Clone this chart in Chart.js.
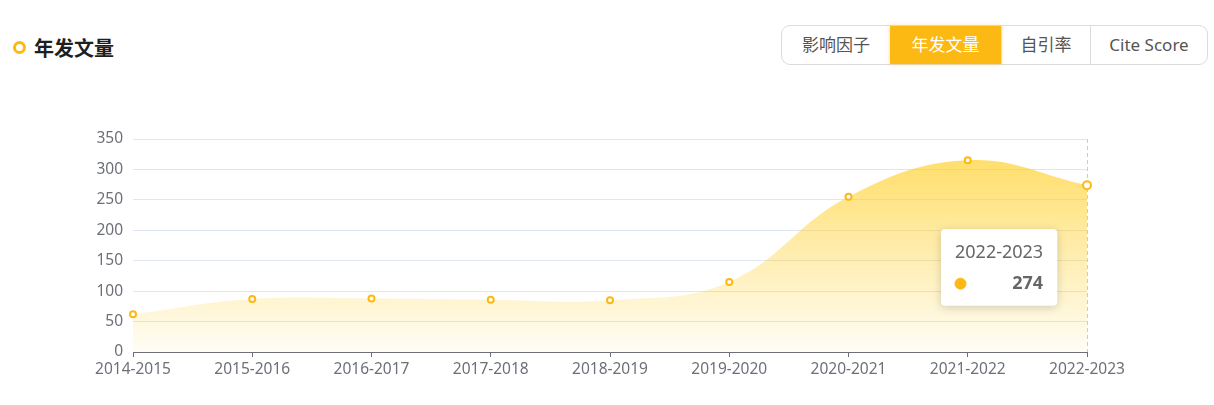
<!DOCTYPE html>
<html><head><meta charset="utf-8">
<script src="https://cdn.jsdelivr.net/npm/chart.js@4/dist/chart.umd.min.js"></script>
<style>
html,body{margin:0;padding:0;background:#fff;width:1214px;height:405px;overflow:hidden;font-family:"Noto Sans","Noto Sans CJK SC",sans-serif;}
.title{position:absolute;left:13px;top:33px;height:28px;display:flex;align-items:center;font-size:20px;font-weight:bold;color:#1f1f1f;font-family:"Noto Sans CJK SC",sans-serif;}
.title .dot{width:7px;height:7px;border:3px solid #FDB913;border-radius:50%;margin-right:8px;}
.btns{position:absolute;left:781px;top:25px;height:38px;display:flex;border:1px solid #dcdcdc;border-radius:9px;}
.btns div{height:38px;line-height:38px;text-align:center;font-size:17px;color:#555;border-left:1px solid #dcdcdc;box-sizing:border-box;}
.btns div:first-child{border-left:none;}
.btns .on{background:#FDB913;color:#fff;box-shadow:0 0 4px rgba(253,185,19,0.5);border-left:none;}
#wrap{position:absolute;left:0;top:100px;width:1214px;height:290px;}
</style></head><body>
<div class="title"><span class="dot"></span>年发文量</div>
<div class="btns"><div style="width:108px">影响因子</div><div class="on" style="width:111px">年发文量</div><div style="width:89px">自引率</div><div style="width:117px">Cite Score</div></div>
<div id="wrap"><canvas id="c"></canvas></div>
<script>
const categories = ["2014-2015","2015-2016","2016-2017","2017-2018","2018-2019","2019-2020","2020-2021","2021-2022","2022-2023"];
const articleCounts = [62, 87, 88, 86, 85, 115, 255, 315, 274];
const yTicks = [0, 50, 100, 150, 200, 250, 300, 350];
const activeIndex = categories.length - 1;

const FONT = '"Noto Sans","Noto Sans CJK SC",sans-serif';
const YELLOW = '#FDB913';

Chart.Tooltip.positioners.below = function(items) {
  if (!items.length) return false;
  const el = items[0].element;
  return { x: el.x - 142, y: el.y + 44 };
};

const crossLine = {
  id: 'crossLine',
  beforeDatasetsDraw(chart) {
    const act = chart.tooltip.getActiveElements();
    if (!act.length) return;
    const x = chart.getDatasetMeta(0).data[act[0].index].x;
    const {ctx, chartArea} = chart;
    ctx.save();
    ctx.strokeStyle = '#c8cbd2';
    ctx.lineWidth = 1;
    ctx.setLineDash([4, 3]);
    ctx.beginPath();
    ctx.moveTo(Math.round(x) + 0.5, chartArea.top);
    ctx.lineTo(Math.round(x) + 0.5, chartArea.bottom);
    ctx.stroke();
    ctx.restore();
  },
  beforeTooltipDraw(chart, args) {
    const t = args.tooltip;
    if (!t.opacity) return;
    const ctx = chart.ctx;
    ctx.save();
    ctx.shadowColor = 'rgba(0,0,0,0.18)';
    ctx.shadowBlur = 10;
    ctx.shadowOffsetY = 2;
    ctx.fillStyle = '#fff';
    ctx.beginPath();
    ctx.roundRect(t.x, t.y, t.width, t.height, 4);
    ctx.fill();
    ctx.restore();
  }
};

const chart = new Chart(document.getElementById('c'), {
  type: 'line',
  data: {
    labels: categories,
    datasets: [{
      data: articleCounts,
      fill: 'origin',
      tension: 0.4,
      borderWidth: 0,
      borderColor: 'rgba(0,0,0,0)',
      backgroundColor(ctx) {
        const ca = ctx.chart.chartArea;
        if (!ca) return 'rgba(255,200,20,0.4)';
        const g = ctx.chart.ctx.createLinearGradient(0, ca.top + 20, 0, ca.bottom);
        g.addColorStop(0, 'rgba(255,205,30,0.66)');
        g.addColorStop(1, 'rgba(255,205,30,0.04)');
        return g;
      },
      pointRadius: 3,
      pointBorderWidth: 2,
      pointBorderColor: YELLOW,
      pointBackgroundColor: '#fff',
      pointHoverRadius: 4,
      pointHoverBorderWidth: 2,
      pointHoverBorderColor: YELLOW,
      pointHoverBackgroundColor: '#fff'
    }]
  },
  options: {
    responsive: true,
    maintainAspectRatio: false,
    animation: false,
    events: [],
    layout: { padding: { top: 39, right: 127, bottom: 0, left: 0 } },
    plugins: {
      legend: { display: false },
      tooltip: {
        enabled: true,
        position: 'below',
        xAlign: 'left',
        yAlign: 'top',
        caretSize: 0,
        caretPadding: 0,
        cornerRadius: 4,
        backgroundColor: 'rgba(255,255,255,1)',
        padding: { left: 14, right: 14, top: 13, bottom: 11 },
        titleColor: '#666',
        titleFont: { family: FONT, size: 18, weight: 'normal' },
        titleMarginBottom: 9,
        bodyColor: '#666',
        bodyFont: { family: FONT, size: 18, weight: 'bold' },
        bodyAlign: 'right',
        displayColors: true,
        usePointStyle: true,
        boxWidth: 11,
        boxHeight: 11,
        boxPadding: 40,
        callbacks: {
          labelPointStyle: () => ({ pointStyle: 'circle', rotation: 0 }),
          labelColor: () => ({ borderColor: YELLOW, backgroundColor: YELLOW, borderWidth: 0 }),
          label: (c) => String(c.parsed.y)
        }
      }
    },
    scales: {
      x: {
        offset: false,
        grid: { display: true, drawOnChartArea: false, drawTicks: true, tickLength: 5, color: '#6E7079' },
        border: { display: true, color: '#6E7079' },
        ticks: { color: '#6E7079', font: { family: FONT, size: 15.5 }, padding: 3, maxRotation: 0, autoSkip: false },
        afterFit(s) { s.height = 38; }
      },
      y: {
        min: 0, max: 350,
        afterBuildTicks(s) { s.ticks = yTicks.map(v => ({ value: v })); },
        grid: { color: '#E0E6F1', drawTicks: false },
        border: { display: false },
        ticks: { color: '#6E7079', font: { family: FONT, size: 15.5 }, padding: 10 },
        afterFit(s) { s.width = 133; }
      }
    }
  },
  plugins: [crossLine]
});

chart.tooltip.setActiveElements([{ datasetIndex: 0, index: activeIndex }], { x: 0, y: 0 });
chart.setActiveElements([{ datasetIndex: 0, index: activeIndex }]);
chart.update();
</script>
</body></html>
